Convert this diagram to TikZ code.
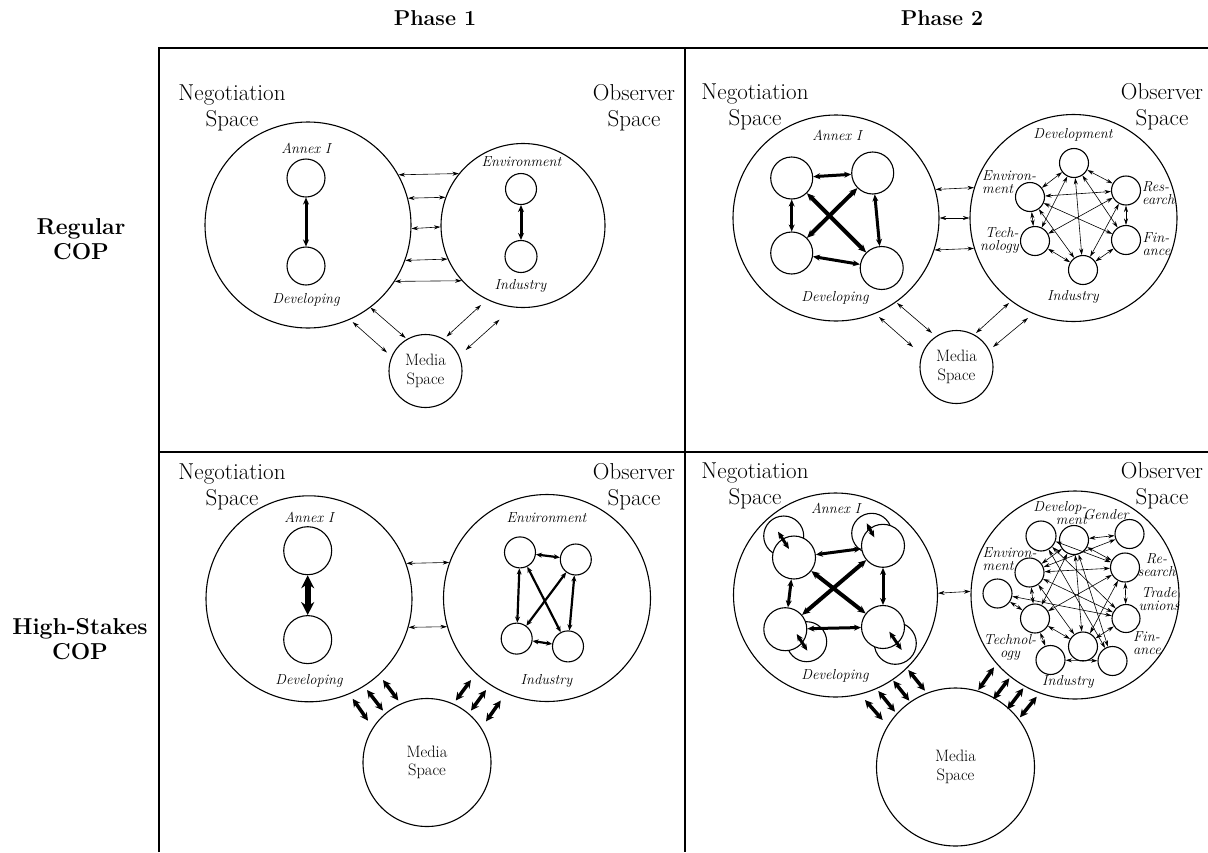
\documentclass[tikz,border=0pt]{standalone}
\usepackage{tikz}
\usetikzlibrary{arrows.meta, positioning, calc}

\tikzset{
  bigspace/.style={circle, draw, line width=1.1pt, inner sep=0pt, minimum size=#1},
  member/.style={circle, draw, line width=1.1pt, fill=white, inner sep=0pt, minimum size=#1},
  spacetext/.style={font=\fontsize{23}{26}\selectfont, align=center, inner sep=0pt},
  headtext/.style={font=\fontsize{21.5}{24}\selectfont\bfseries, align=center, inner sep=0pt},
  rowtext/.style={font=\fontsize{23}{25}\selectfont\bfseries, align=center, inner sep=0pt},
  mediatext/.style={font=\fontsize{16.5}{18.5}\selectfont, align=center},
  grouptext/.style={font=\fontsize{14.5}{13}\selectfont\itshape, inner sep=0pt},
  thinarrow/.style={{Stealth[length=6.5pt,width=4pt]}-{Stealth[length=6.5pt,width=4pt]}, line width=0.6pt},
  boldarrow/.style={{Stealth[length=7pt,width=6pt]}-{Stealth[length=7pt,width=6pt]}, line width=3pt},
  xarrow/.style={{Stealth[length=8pt,width=7pt]}-{Stealth[length=8pt,width=7pt]}, line width=4pt},
  midarrow/.style={{Stealth[length=6pt,width=5pt]}-{Stealth[length=6pt,width=5pt]}, line width=2.2pt},
  heavyarrow/.style={{Stealth[length=13pt,width=13pt]}-{Stealth[length=13pt,width=13pt]}, line width=6pt},
  mediaarrow/.style={{Stealth[length=8pt,width=8pt]}-{Stealth[length=8pt,width=8pt]}, line width=3.5pt}
}

\begin{document}
\begin{tikzpicture}[x=1pt, y=-1pt]
  \useasboundingbox (0,0) rectangle (1208,852);

  % Table lines
  \draw[line width=1.5pt] (159,852) -- (159,48) -- (1208,48);
  \draw[line width=1.5pt] (685,48) -- (685,852);
  \draw[line width=1.5pt] (159,452) -- (1208,452);

  % Headers
  \node[headtext] (phaseA) at (435,18) {Phase 1};
  \node[headtext] (phaseB) at (942,18) {Phase 2};
  \node[rowtext] (rowreg) at (81,239.5) {Regular\\COP};
  \node[rowtext] (rowhigh) at (80,639.5) {High-Stakes\\COP};

  % --- Panel A: Phase 1, regular COP ---
  \node[bigspace=206] (nsA) at (308,225) {};
  \node[bigspace=164] (osA) at (523,225.5) {};
  \node[bigspace=73, mediatext] (msA) at (425.5,371) {Media\\Space};
  \node[spacetext] (nsAt) at (232,107.5) {Negotiation\\Space};
  \node[spacetext] (osAt) at (634,107.5) {Observer\\Space};
  \node[member=38] (anA) at (306,178) {};
  \node[member=38] (dvA) at (306,266) {};
  \node[grouptext] (anAt) at (306,148) {Annex I};
  \node[grouptext] (dvAt) at (306,300) {Developing};
  \node[member=31] (enA) at (521,189) {};
  \node[member=32] (inA) at (521,256.5) {};
  \node[grouptext] (enAt) at (521.5,162) {Environment};
  \node[grouptext] (inAt) at (520.5,286) {Industry};
  \draw[boldarrow] (anA) -- (dvA);
  \draw[boldarrow] (enA) -- (inA);
  % links between spaces
  \draw[thinarrow] (nsA.29.4) -- (osA.141.5);
  \draw[thinarrow] (nsA.15.2) -- (osA.160.4);
  \draw[thinarrow] (nsA.358.9) -- (osA.181);
  \draw[thinarrow] (nsA.340.7) -- (osA.204.1);
  \draw[thinarrow] (nsA.327.1) -- (osA.222.6);
  \draw[thinarrow] ($(nsA)+(44.6,97)$) -- ($(msA)+(-38.5,-18.5)$);
  \draw[thinarrow] ($(nsA)+(62.5,82.6)$) -- ($(msA)+(-19.9,-33)$);
  \draw[thinarrow] ($(osA)+(-42,79.5)$) -- ($(msA)+(21,-34.4)$);
  \draw[thinarrow] ($(osA)+(-23.5,94.2)$) -- ($(msA)+(40.2,-21)$);

  % --- Panel B: Phase 2, regular COP ---
  \node[bigspace=206] (nsB) at (836,218) {};
  \node[bigspace=207] (osB) at (1073.5,218) {};
  \node[bigspace=73, mediatext] (msB) at (956.5,367) {Media\\Space};
  \node[spacetext] (nsBt) at (755,106.5) {Negotiation\\Space};
  \node[spacetext] (osBt) at (1162,106.5) {Observer\\Space};
  \node[grouptext] (anBt) at (837,135) {Annex I};
  \node[grouptext] (dvBt) at (835,298) {Developing};
  \node[member=42] (atlB) at (791.7,178) {};
  \node[member=42] (atrB) at (872.7,173) {};
  \node[member=42] (ablB) at (791.7,253) {};
  \node[member=43] (abrB) at (881.7,268) {};
  \draw[boldarrow] (atlB) -- (atrB);
  \draw[boldarrow] (atlB) -- (ablB);
  \draw[boldarrow] (atrB) -- (abrB);
  \draw[boldarrow] (ablB) -- (abrB);
  \draw[xarrow] (atlB) -- (abrB);
  \draw[xarrow] (atrB) -- (ablB);
  % observer groups
  \node[member=29] (devB) at (1074,163) {};
  \node[member=29] (resB) at (1126,190.5) {};
  \node[member=29] (finB) at (1126,240) {};
  \node[member=29] (indB) at (1083,270) {};
  \node[member=29] (tecB) at (1035,241) {};
  \node[member=29] (envB) at (1030,197) {};
  \node[grouptext] (devBt) at (1073,135) {Development};
  \node[grouptext, align=left, anchor=west] (envBt) at (982,182.5) {Environ-\\ment};
  \node[grouptext, align=right, anchor=east] (tecBt) at (1019,240.5) {Tech-\\nology};
  \node[grouptext, align=left, anchor=west] (resBt) at (1142,193) {Res-\\earch};
  \node[grouptext, align=left, anchor=west] (finBt) at (1142.5,244) {Fin-\\ance};
  \node[grouptext] (indBt) at (1073,297) {Industry};
  \foreach \a/\b in {dev/env, dev/res, dev/tec, dev/ind, dev/fin, env/res, env/tec,
                     env/fin, env/ind, res/fin, res/tec, res/ind, fin/ind, tec/ind}
    \draw[thinarrow] (\a B) -- (\b B);
  % links between spaces
  \draw[thinarrow] (nsB.16.35) -- (osB.163.7);
  \draw[thinarrow] (nsB.0) -- (osB.180);
  \draw[thinarrow] (nsB.342.5) -- (osB.197.4);
  \draw[thinarrow] ($(nsB)+(43,99)$) -- ($(msB)+(-43.5,-20)$);
  \draw[thinarrow] ($(nsB)+(61,85)$) -- ($(msB)+(-24.5,-34)$);
  \draw[thinarrow] ($(osB)+(-64.5,85)$) -- ($(msB)+(19.5,-34)$);
  \draw[thinarrow] ($(osB)+(-45.5,100)$) -- ($(msB)+(36.5,-20)$);

  % --- Panel C: Phase 1, high-stakes COP ---
  \node[bigspace=206] (nsC) at (309,598.8) {};
  \node[bigspace=207] (osC) at (547,598) {};
  \node[bigspace=128, mediatext] (msC) at (427,762.5) {Media\\Space};
  \node[spacetext] (nsCt) at (232,487) {Negotiation\\Space};
  \node[spacetext] (osCt) at (634,487) {Observer\\Space};
  \node[member=48] (anC) at (307.7,550.7) {};
  \node[member=48] (dvC) at (307.7,639.6) {};
  \node[grouptext] (anCt) at (309,517) {Annex I};
  \node[grouptext] (dvCt) at (309,681) {Developing};
  \draw[heavyarrow] (anC) -- (dvC);
  \node[member=31] (etlC) at (520,552.4) {};
  \node[member=31] (etrC) at (575.8,559.5) {};
  \node[member=31] (eblC) at (516.7,638.6) {};
  \node[member=31] (ebrC) at (568,646.4) {};
  \node[grouptext] (enCt) at (546.4,518) {Environment};
  \node[grouptext] (inCt) at (546.4,681) {Industry};
  \draw[midarrow] (etlC) -- (etrC);
  \draw[midarrow] (etlC) -- (eblC);
  \draw[midarrow] (etrC) -- (ebrC);
  \draw[midarrow] (eblC) -- (ebrC);
  \draw[midarrow] (etlC) -- (ebrC);
  \draw[midarrow] (etrC) -- (eblC);
  % links between spaces
  \draw[thinarrow] (nsC.20) -- (osC.160.5);
  \draw[thinarrow] (nsC.344.2) -- (osC.196.2);
  \draw[mediaarrow] ($(nsC)+(43.7,100)$) -- ($(msC)+(-59,-41.8)$);
  \draw[mediaarrow] ($(nsC)+(58,91.2)$) -- ($(msC)+(-44,-51.9)$);
  \draw[mediaarrow] ($(nsC)+(74,81.2)$) -- ($(msC)+(-28.7,-62)$);
  \draw[mediaarrow] ($(osC)+(-76,82)$) -- ($(msC)+(28.8,-62)$);
  \draw[mediaarrow] ($(osC)+(-61,92)$) -- ($(msC)+(44,-51.9)$);
  \draw[mediaarrow] ($(osC)+(-46.2,102.5)$) -- ($(msC)+(59,-41.1)$);

  % --- Panel D: Phase 2, high-stakes COP ---
  \node[bigspace=204] (nsD) at (835.5,595) {};
  \node[bigspace=208] (osD) at (1075,595) {};
  \node[bigspace=158, mediatext] (msD) at (955.5,767) {Media\\Space};
  \node[spacetext] (nsDt) at (755,486) {Negotiation\\Space};
  \node[spacetext] (osDt) at (1162,486) {Observer\\Space};
  \node[grouptext] (anDt) at (835.7,508.3) {Annex I};
  \node[grouptext] (dvDt) at (835,675.7) {Developing};
  % delegations split in two
  \node[member=40] (btlD) at (783.7,536) {};
  \node[member=40] (btrD) at (871.7,533.3) {};
  \node[member=40] (bblD) at (806.7,641.7) {};
  \node[member=42] (bbrD) at (895.3,643.3) {};
  \node[member=43] (ftlD) at (794,557.5) {};
  \node[member=43] (ftrD) at (883,545.8) {};
  \node[member=43] (fblD) at (785.3,629.2) {};
  \node[member=43] (fbrD) at (883,627) {};
  \draw[boldarrow] ($(btlD)+(-5.7,-4.3)$) -- ($(ftlD)+(-5,-8.5)$);
  \draw[boldarrow] ($(btrD)+(-5,-10)$) -- ($(ftrD)+(-8.7,-8.5)$);
  \draw[boldarrow] ($(fblD)+(11.4,4.8)$) -- ($(bblD)+(0.6,9)$);
  \draw[boldarrow] ($(fbrD)+(6.3,4.7)$) -- ($(bbrD)+(6.4,6.7)$);
  \draw[boldarrow] (ftlD) -- (ftrD);
  \draw[boldarrow] (ftlD) -- (fblD);
  \draw[boldarrow] (ftrD) -- (fbrD);
  \draw[boldarrow] (fblD) -- (fbrD);
  \draw[xarrow] (ftlD) -- (fbrD);
  \draw[xarrow] (ftrD) -- (fblD);
  % observer groups
  \node[member=30] (hdaD) at (1041,536) {};
  \node[member=29] (hdbD) at (1074,540) {};
  \node[member=29] (genD) at (1129.5,534) {};
  \node[member=29] (envD) at (1029.5,572.5) {};
  \node[member=29] (resD) at (1125,567.5) {};
  \node[member=29] (extD) at (997.5,593.5) {};
  \node[member=29] (tecD) at (1035,618.5) {};
  \node[member=28] (traD) at (1126,618.5) {};
  \node[member=29] (indD) at (1083,646.5) {};
  \node[member=29] (hblD) at (1050.5,660) {};
  \node[member=29] (hbrD) at (1112.5,661) {};
  \node[grouptext, align=right, anchor=east] (devDt) at (1087,513.3) {Develop-\\ment};
  \node[grouptext] (genDt) at (1106,515) {Gender};
  \node[grouptext, align=left, anchor=west] (envDt) at (982.5,559) {Environ-\\ment};
  \node[grouptext, align=center] (resDt) at (1156.5,565) {Re-\\search};
  \node[grouptext, align=center] (traDt) at (1159,599) {Trade\\unions};
  \node[grouptext, align=left, anchor=west] (finDt) at (1133,643.3) {Fin-\\ance};
  \node[grouptext, align=center] (tecDt) at (1010,647.3) {Technol-\\ogy};
  \node[grouptext] (indDt) at (1068,682.3) {Industry};
  \foreach \a/\b in {hdb/gen, gen/env, hdb/res, hda/res, hdb/ind, hda/hbr, env/tec,
                     ext/tec, ext/tra, env/tra, env/res, tec/res, tec/hdb, tec/hbl,
                     tec/ind, ind/res, ind/tra, res/tra, hbl/hbr, hdb/env, env/ind,
                     hda/tra, hdb/hbr}
    \draw[thinarrow] (\a D) -- (\b D);
  % links between spaces
  \draw[thinarrow] (nsD.1.5) -- (osD.178.5);
  \draw[mediaarrow] ($(nsD)+(29.5,105)$) -- ($(msD)+(-72.8,-47)$);
  \draw[mediaarrow] ($(nsD)+(42.8,96)$) -- ($(msD)+(-60.5,-55.3)$);
  \draw[mediaarrow] ($(nsD)+(57.8,85.7)$) -- ($(msD)+(-46.2,-66.3)$);
  \draw[mediaarrow] ($(nsD)+(72.8,75)$) -- ($(msD)+(-30.5,-76.3)$);
  \draw[mediaarrow] ($(osD)+(-81,72.3)$) -- ($(msD)+(22.8,-77)$);
  \draw[mediaarrow] ($(osD)+(-65.7,83.3)$) -- ($(msD)+(37.8,-67.7)$);
  \draw[mediaarrow] ($(osD)+(-51.7,93.3)$) -- ($(msD)+(51.8,-57.7)$);
  \draw[mediaarrow] ($(osD)+(-38.3,101.7)$) -- ($(msD)+(64.5,-49.7)$);
\end{tikzpicture}
\end{document}
